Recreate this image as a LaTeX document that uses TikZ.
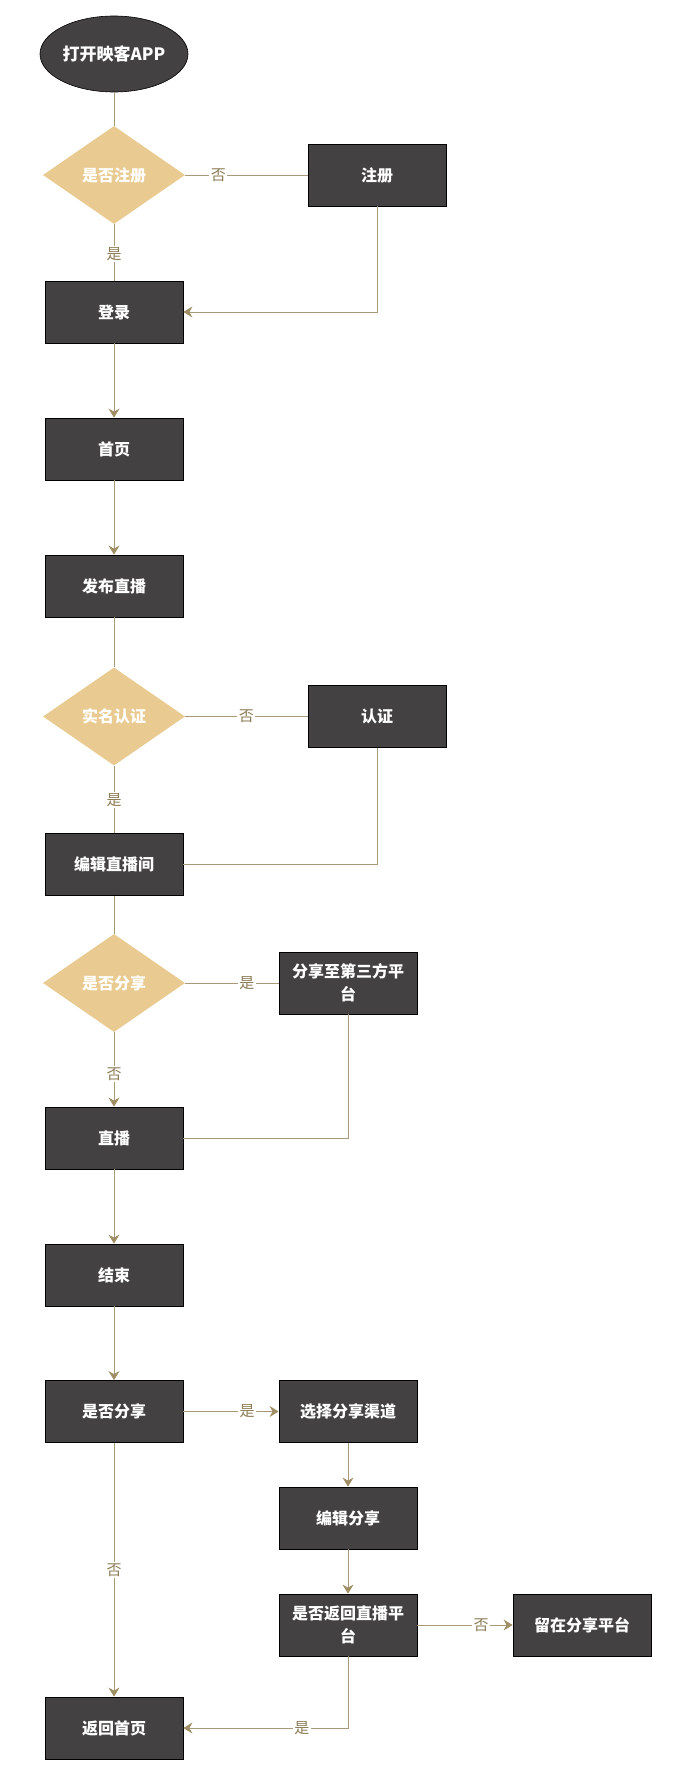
\documentclass[tikz,border=0pt]{standalone}
\usepackage{fontspec}
\setmainfont{Noto Sans CJK SC}
\usetikzlibrary{shapes.geometric,arrows.meta}
\definecolor{boxfill}{HTML}{434141}
\definecolor{dfill}{HTML}{E9CB92}
\definecolor{lnc}{HTML}{A89A78}
\definecolor{tipc}{HTML}{A08F64}
\definecolor{lblc}{HTML}{8C7C57}
\tikzset{
  stepbox/.style={rectangle,draw=black,line width=0.8pt,fill=boxfill,text=white,
    minimum width=138pt,minimum height=62pt,inner sep=2pt,align=center,
    font=\fontsize{16}{23}\selectfont\bfseries},
  decis/.style={diamond,fill=dfill,text=white,minimum width=142pt,minimum height=98pt,
    inner sep=0pt,shape aspect=1.45,font=\fontsize{16}{18}\selectfont\bfseries},
  startnode/.style={ellipse,draw=black,line width=0.6pt,fill=boxfill,text=white,
    minimum width=148pt,minimum height=76pt,inner sep=0pt,
    font=\fontsize{17}{19}\selectfont\bfseries},
  conn/.style={draw=lnc,line width=0.9pt},
  arr/.style={conn,-{Stealth[length=9pt,width=11pt,inset=3pt,color=tipc]}},
  lbl/.style={fill=white,text=lblc,inner sep=1.5pt,font=\fontsize{15}{17}\selectfont}
}
\begin{document}
\begin{tikzpicture}[x=1pt,y=-1pt]
\useasboundingbox[fill=white] (0,0) rectangle (674,1776);
\node[startnode] (start) at (114,54) {打开映客APP};
\node[decis] (d1) at (114,175) {是否注册};
\node[stepbox] (reg) at (377,175) {注册};
\node[stepbox] (login) at (114,312) {登录};
\node[stepbox] (home) at (114,449) {首页};
\node[stepbox] (pub) at (114,586) {发布直播};
\node[decis] (d2) at (114,716.5) {实名认证};
\node[stepbox] (auth) at (377,716.5) {认证};
\node[stepbox] (edit) at (114,864.5) {编辑直播间};
\node[decis] (d3) at (114,983) {是否分享};
\node[stepbox] (share3) at (348,983) {分享至第三方平\\台};
\node[stepbox] (live) at (114,1138) {直播};
\node[stepbox] (endn) at (114,1275) {结束};
\node[stepbox] (ask) at (114,1411.5) {是否分享};
\node[stepbox] (chan) at (348,1411.5) {选择分享渠道};
\node[stepbox] (eshare) at (348,1518) {编辑分享};
\node[stepbox] (back) at (348,1625) {是否返回直播平\\台};
\node[stepbox] (stay) at (582,1625) {留在分享平台};
\node[stepbox] (ret) at (114,1728) {返回首页};

\draw[conn] (start) -- (d1);
\draw[conn] (d1.east) -- node[lbl,pos=0.27] {否} (reg.west);
\draw[conn] (d1.south) -- node[lbl,pos=0.53] {是} (login.north);
\draw[arr] (reg.south) |- (login.east);
\draw[arr] (login) -- (home);
\draw[arr] (home) -- (pub);
\draw[conn] (pub) -- (d2);
\draw[conn] (d2.east) -- node[lbl,pos=0.5] {否} (auth.west);
\draw[conn] (d2.south) -- node[lbl,pos=0.51] {是} (edit.north);
\draw[conn] (auth.south) |- (edit.east);
\draw[conn] (edit) -- (d3);
\draw[conn] (d3.east) -- node[lbl,pos=0.66] {是} (share3.west);
\draw[arr] (d3.south) -- node[lbl,pos=0.56] {否} (live.north);
\draw[conn] (share3.south) |- (live.east);
\draw[arr] (live) -- (endn);
\draw[arr] (endn) -- (ask);
\draw[arr] (ask) -- node[lbl,pos=0.67] {是} (chan);
\draw[arr] (chan) -- (eshare);
\draw[arr] (eshare) -- (back);
\draw[arr] (back) -- node[lbl,pos=0.67] {否} (stay);
\draw[arr] (back.south) |- node[lbl,pos=0.64] {是} (ret.east);
\draw[arr] (ask) -- node[lbl,pos=0.5] {否} (ret);
\end{tikzpicture}
\end{document}
